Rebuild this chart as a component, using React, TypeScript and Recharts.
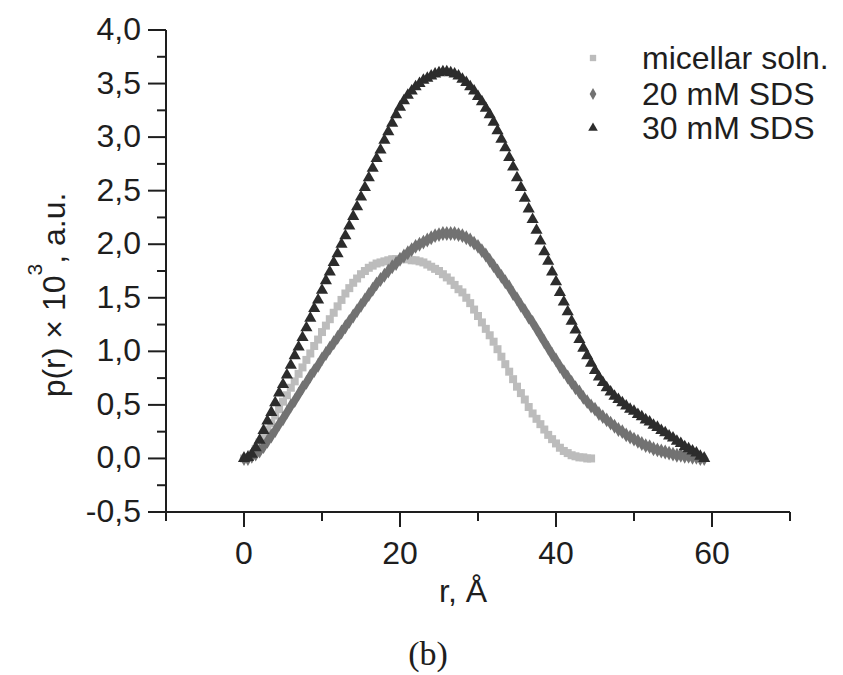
import { Scatter, ScatterChart, Symbols, XAxis, YAxis, ZAxis } from 'recharts';

// r grid, Å
const rGrid = [
  0, 0.5, 1, 1.5, 2, 2.5, 3, 3.5, 4, 4.5, 5, 5.5, 6, 6.5, 7, 7.5, 8, 8.5, 9, 9.5,
  10, 10.5, 11, 11.5, 12, 12.5, 13, 13.5, 14, 14.5, 15, 15.5, 16, 16.5, 17, 17.5, 18, 18.5, 19, 19.5,
  20, 20.5, 21, 21.5, 22, 22.5, 23, 23.5, 24, 24.5, 25, 25.5, 26, 26.5, 27, 27.5, 28, 28.5, 29, 29.5,
  30, 30.5, 31, 31.5, 32, 32.5, 33, 33.5, 34, 34.5, 35, 35.5, 36, 36.5, 37, 37.5, 38, 38.5, 39, 39.5,
  40, 40.5, 41, 41.5, 42, 42.5, 43, 43.5, 44, 44.5, 45, 45.5, 46, 46.5, 47, 47.5, 48, 48.5, 49, 49.5,
  50, 50.5, 51, 51.5, 52, 52.5, 53, 53.5, 54, 54.5, 55, 55.5, 56, 56.5, 57, 57.5, 58, 58.5, 59
];

// p(r) x 10^3
const micellar = [
  0.0, 0.01, 0.04, 0.09, 0.15, 0.21, 0.27, 0.33, 0.4, 0.46,
  0.53, 0.59, 0.66, 0.72, 0.79, 0.85, 0.92, 0.98, 1.05, 1.11,
  1.18, 1.24, 1.3, 1.36, 1.42, 1.48, 1.54, 1.59, 1.64, 1.68,
  1.72, 1.75, 1.78, 1.8, 1.82, 1.83, 1.84, 1.85, 1.86, 1.86,
  1.86, 1.86, 1.86, 1.85, 1.85, 1.84, 1.83, 1.81, 1.79, 1.77,
  1.75, 1.72, 1.69, 1.66, 1.62, 1.58, 1.55, 1.5, 1.45, 1.39,
  1.33, 1.27, 1.21, 1.15, 1.09, 1.02, 0.95, 0.88, 0.81, 0.74,
  0.67, 0.61, 0.55, 0.48, 0.42, 0.37, 0.32, 0.27, 0.22, 0.18,
  0.14, 0.1, 0.07, 0.05, 0.03, 0.02, 0.01, 0.01, 0.0, 0.0
];

const sds20 = [
  0.0, 0.0, 0.02, 0.04, 0.07, 0.11, 0.16, 0.21, 0.26, 0.32,
  0.37, 0.43, 0.49, 0.54, 0.6, 0.66, 0.71, 0.77, 0.82, 0.87,
  0.93, 0.98, 1.03, 1.08, 1.13, 1.18, 1.23, 1.28, 1.33, 1.38,
  1.43, 1.48, 1.53, 1.58, 1.63, 1.67, 1.71, 1.75, 1.79, 1.82,
  1.86, 1.89, 1.92, 1.95, 1.98, 2.0, 2.02, 2.04, 2.06, 2.08,
  2.09, 2.1, 2.1, 2.1, 2.1, 2.09, 2.08, 2.06, 2.04, 2.01,
  1.98, 1.94, 1.9, 1.85, 1.8, 1.75, 1.7, 1.65, 1.6, 1.54,
  1.49, 1.43, 1.38, 1.32, 1.27, 1.21, 1.15, 1.09, 1.03, 0.97,
  0.92, 0.86, 0.81, 0.76, 0.71, 0.66, 0.62, 0.57, 0.53, 0.49,
  0.46, 0.42, 0.39, 0.36, 0.33, 0.3, 0.27, 0.25, 0.22, 0.2,
  0.18, 0.16, 0.14, 0.12, 0.11, 0.09, 0.08, 0.07, 0.06, 0.05,
  0.04, 0.03, 0.03, 0.02, 0.02, 0.01, 0.01, 0.0, 0.0
];

const sds30 = [
  0.0, 0.01, 0.04, 0.1, 0.17, 0.26, 0.35, 0.43, 0.52, 0.61,
  0.69, 0.78, 0.87, 0.96, 1.04, 1.13, 1.22, 1.31, 1.4, 1.48,
  1.57, 1.66, 1.74, 1.83, 1.91, 2.0, 2.08, 2.17, 2.26, 2.35,
  2.44, 2.53, 2.62, 2.71, 2.8, 2.88, 2.97, 3.05, 3.13, 3.21,
  3.28, 3.34, 3.39, 3.43, 3.47, 3.5, 3.53, 3.55, 3.57, 3.59,
  3.6, 3.61, 3.61, 3.6, 3.59, 3.57, 3.54, 3.51, 3.47, 3.43,
  3.38, 3.33, 3.27, 3.21, 3.14, 3.06, 2.98, 2.9, 2.81, 2.72,
  2.62, 2.53, 2.43, 2.33, 2.23, 2.13, 2.03, 1.93, 1.84, 1.74,
  1.65, 1.55, 1.46, 1.37, 1.28, 1.2, 1.11, 1.03, 0.96, 0.89,
  0.82, 0.76, 0.71, 0.66, 0.62, 0.58, 0.55, 0.52, 0.49, 0.46,
  0.44, 0.41, 0.39, 0.36, 0.34, 0.31, 0.29, 0.26, 0.24, 0.21,
  0.19, 0.16, 0.14, 0.11, 0.09, 0.07, 0.05, 0.02, 0.0
];

const seriesNames = ['micellar soln.', '20 mM SDS', '30 mM SDS'];
const xTicks = [-10, 0, 10, 20, 30, 40, 50, 60, 70];
const yTicks = [
  -0.5, -0.25, 0, 0.25, 0.5, 0.75, 1, 1.25, 1.5, 1.75, 2, 2.25, 2.5, 2.75, 3, 3.25, 3.5, 3.75, 4
];

const AXIS = '#1e1e1e';
const FONT = '"Liberation Sans", Arial, Helvetica, sans-serif';
const COLORS = ['#bcbcbc', '#727272', '#2c2c2c'];
const SHAPES = ['square', 'diamond', 'triangle'] as const;
const SIZES = [50, 46, 36];

function toPoints(values: number[]) {
  return values.map((p, i) => ({ r: rGrid[i], p }));
}

const series = [micellar, sds20, sds30].map(toPoints);

const fmt = (v: number) => v.toFixed(1).replace('.', ',');

function XTick({ x, y, payload }: any) {
  const v = payload.value as number;
  const major = v % 20 === 0;
  return (
    <g>
      <line x1={x} x2={x} y1={y} y2={y + (major ? 15 : 9)} stroke={AXIS} strokeWidth={2} />
      {major && (
        <text x={x} y={y + 52} textAnchor="middle" fontFamily={FONT} fontSize={32} fill={AXIS}>
          {v}
        </text>
      )}
    </g>
  );
}

function YTick({ x, y, payload }: any) {
  const v = payload.value as number;
  const major = Math.abs(v * 2 - Math.round(v * 2)) < 1e-6;
  return (
    <g>
      <line x1={x} x2={x - (major ? 18 : 9)} y1={y} y2={y} stroke={AXIS} strokeWidth={2} />
      {major && (
        <text x={x - 25} y={y + 10} textAnchor="end" fontFamily={FONT} fontSize={32} fill={AXIS}>
          {fmt(v)}
        </text>
      )}
    </g>
  );
}

function YTitle({ viewBox }: any) {
  const cx = viewBox.x - 52;
  const cy = viewBox.y + viewBox.height / 2 + 24;
  return (
    <text
      x={cx}
      y={cy}
      transform={`rotate(-90, ${cx}, ${cy})`}
      textAnchor="middle"
      dominantBaseline="central"
      fontFamily={FONT}
      fontSize={32}
      fill={AXIS}
    >
      p(r) × 10
      <tspan dy={-20} fontSize={21}>3</tspan>
      <tspan dy={20}>, a.u.</tspan>
    </text>
  );
}

function XTitle({ viewBox }: any) {
  const cx = viewBox.x + viewBox.width / 2;
  return (
    <g>
      <text x={cx - 15} y={viewBox.y + 90} textAnchor="middle" fontFamily={FONT} fontSize={32} fill={AXIS}>
        r, Å
      </text>
      <text
        x={cx - 50}
        y={viewBox.y + 153}
        textAnchor="middle"
        fontFamily='"Liberation Serif", "Times New Roman", serif'
        fontSize={34}
        fill={AXIS}
      >
        (b)
      </text>
    </g>
  );
}

function LegendOverlay() {
  const rows = [58, 94, 128];
  return (
    <svg width={843} height={675} style={{ position: 'absolute', left: 0, top: 0, pointerEvents: 'none' }}>
      {seriesNames.map((name, i) => (
        <g key={name}>
          <Symbols cx={593} cy={rows[i]} type={SHAPES[i]} size={40} fill={COLORS[i]} />
          <text x={642} y={rows[i] + 11} fontFamily={FONT} fontSize={32} fill={AXIS}>
            {name}
          </text>
        </g>
      ))}
    </svg>
  );
}

export default function App() {
  return (
    <div style={{ position: 'absolute', left: 0, top: 0, width: 843, height: 675, background: '#fff' }}>
      <ScatterChart width={843} height={675} margin={{ top: 30, right: 53, bottom: 103, left: 106 }}>
        <XAxis
          type="number"
          dataKey="r"
          domain={[-10, 70]}
          ticks={xTicks}
          allowDataOverflow
          height={60}
          tickSize={0}
          tickMargin={0}
          tickLine={false}
          axisLine={{ stroke: AXIS, strokeWidth: 2 }}
          tick={<XTick />}
          label={XTitle}
        />
        <YAxis
          type="number"
          dataKey="p"
          domain={[-0.5, 4]}
          ticks={yTicks}
          allowDataOverflow
          width={60}
          tickSize={0}
          tickMargin={0}
          tickLine={false}
          axisLine={{ stroke: AXIS, strokeWidth: 2 }}
          tick={<YTick />}
          label={YTitle}
        />
        {SIZES.map((s, i) => (
          <ZAxis key={i} zAxisId={i} range={[s, s]} />
        ))}
        {series.map((data, i) => (
          <Scatter
            key={seriesNames[i]}
            name={seriesNames[i]}
            data={data}
            zAxisId={i}
            fill={COLORS[i]}
            shape={SHAPES[i]}
            isAnimationActive={false}
          />
        ))}
      </ScatterChart>
      <LegendOverlay />
    </div>
  );
}
